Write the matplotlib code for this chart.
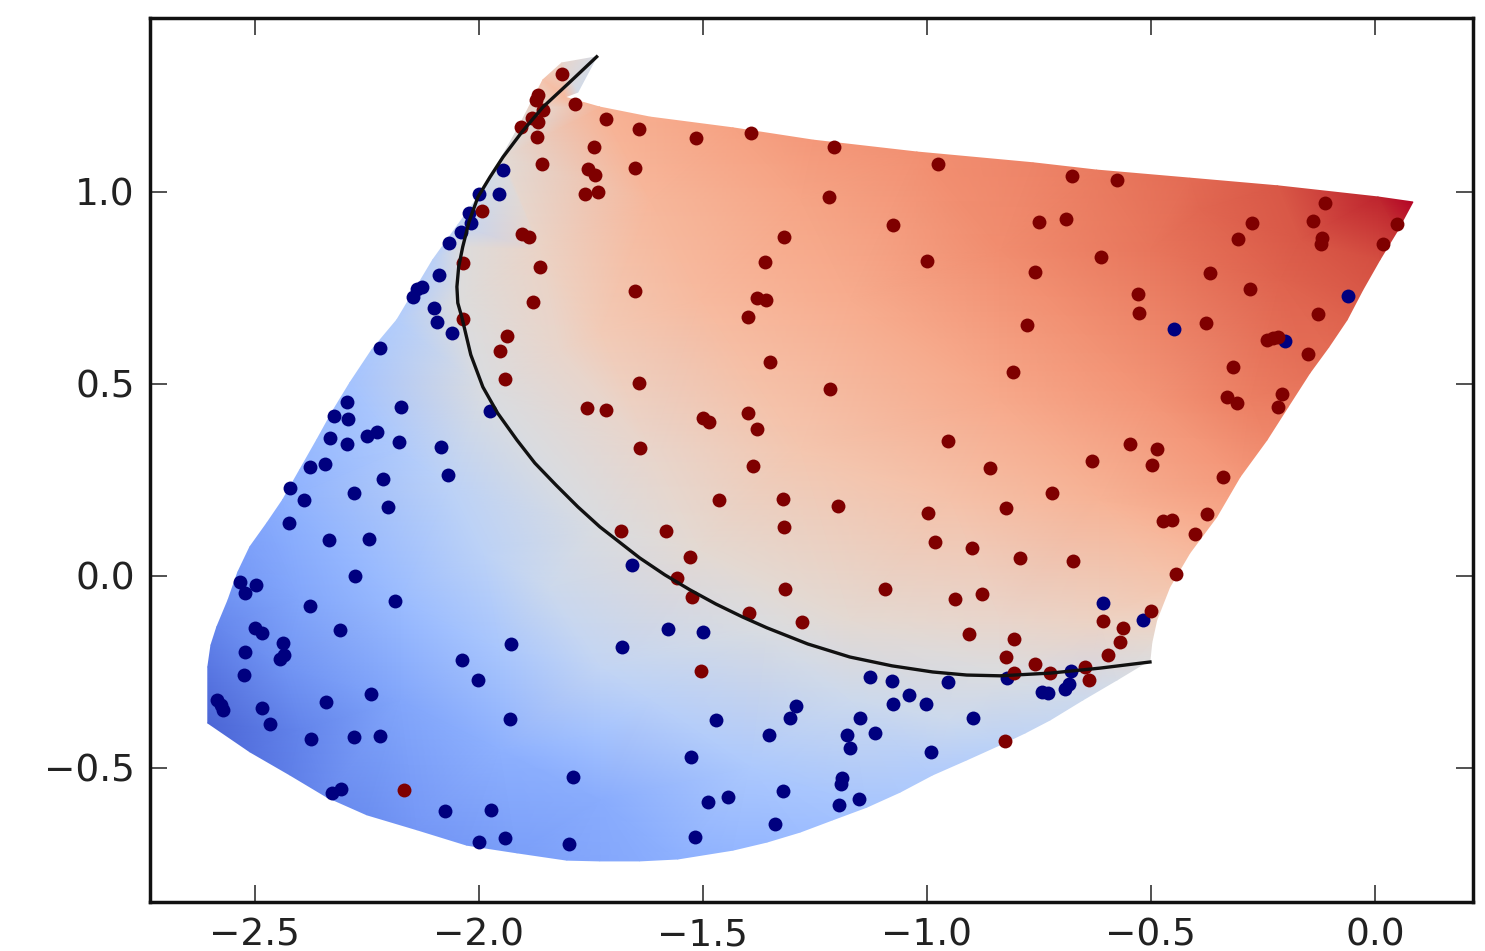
import numpy as np
import matplotlib
matplotlib.use('Agg')
import matplotlib.pyplot as plt
import matplotlib.tri as mtri
from matplotlib.path import Path

# outline of the warped surface, in drawing order
edge_x = [-2.605, -2.511, -2.422, -2.339, -2.250, -2.138, -2.027, -1.915, -1.804, -1.730, -1.641,
          -1.556, -1.433, -1.357, -1.283, -1.210, -1.134, -1.060, -0.987, -0.911, -0.837, -0.781, -0.725, -0.652, -0.576, -0.502,
          -0.498, -0.487, -0.458, -0.413, -0.353, -0.301, -0.241, -0.194, -0.145, -0.103, -0.062, -0.027, 0.011, 0.049, 0.085,
          0.007, -0.217, -0.413, -0.621, -0.763, -1.022, -1.254, -1.433, -1.618, -1.730, -1.808, -1.779, -1.737,
          -1.815, -1.857, -1.915, -1.953, -1.991, -2.047, -2.103, -2.143, -2.183, -2.239, -2.288, -2.326, -2.362, -2.400, -2.438,
          -2.473, -2.511, -2.538, -2.560, -2.585, -2.598, -2.605]
edge_y = [-0.383, -0.458, -0.518, -0.576, -0.622, -0.661, -0.701, -0.721, -0.740, -0.742, -0.742,
          -0.737, -0.714, -0.693, -0.667, -0.635, -0.602, -0.563, -0.518, -0.479, -0.440, -0.409, -0.375, -0.323, -0.271, -0.219,
          -0.174, -0.115, -0.029, 0.060, 0.154, 0.258, 0.354, 0.440, 0.529, 0.596, 0.667, 0.745, 0.823, 0.896, 0.974,
          0.987, 1.016, 1.036, 1.057, 1.076, 1.104, 1.135, 1.167, 1.195, 1.221, 1.247, 1.260, 1.352,
          1.336, 1.292, 1.161, 1.083, 1.005, 0.914, 0.823, 0.745, 0.667, 0.589, 0.503, 0.430, 0.354, 0.276, 0.198,
          0.138, 0.076, 0.010, -0.063, -0.133, -0.180, -0.237]
edge_z = [0.06, 0.09, 0.12, 0.15, 0.16, 0.18, 0.19, 0.20, 0.215, 0.225, 0.235,
          0.25, 0.27, 0.28, 0.295, 0.31, 0.325, 0.34, 0.355, 0.37, 0.39, 0.405, 0.42, 0.44, 0.47, 0.50,
          0.53, 0.57, 0.62, 0.66, 0.71, 0.75, 0.79, 0.815, 0.84, 0.855, 0.87, 0.89, 0.91, 0.95, 1.00,
          0.97, 0.89, 0.855, 0.82, 0.80, 0.77, 0.75, 0.73, 0.70, 0.68, 0.66, 0.46, 0.47,
          0.55, 0.63, 0.50, 0.48, 0.45, 0.41, 0.38, 0.37, 0.36, 0.34, 0.32, 0.30, 0.29, 0.27, 0.25,
          0.23, 0.21, 0.19, 0.17, 0.14, 0.12, 0.10]

# colour read at points inside the surface
inner_x = [-1.857, -1.946, -2.036, -2.042, -1.991, -1.730, -1.357, -0.837,
           -2.400, -2.176, -2.438, -2.176, -2.400, -1.953, -1.730, -1.730, -1.730, -2.065, -2.176, -1.842, -1.618, -1.395, -1.172, -0.949, -1.953, -1.991,
           -1.730, -1.618, -1.283, -1.507, -1.172, -0.837, -0.837, -0.502, -0.502, -0.212, -0.279, -1.283, -0.949, -0.614, -1.618, -1.507, -1.172, -0.837, -0.614, -1.819, -1.864, -0.167, -0.391]
inner_y = [1.221, 1.091, 0.857, 0.719, 0.492, 0.128, -0.135, -0.260,
           -0.063, -0.063, -0.237, -0.323, -0.401, -0.453, -0.583, -0.409, -0.237, 0.232, 0.328, -0.029, -0.323, -0.497, -0.323, -0.375, -0.193, 0.060,
           0.633, 0.979, 0.979, 0.719, 0.719, 0.849, 0.458, 0.849, 0.458, 0.771, 0.458, 0.328, 0.198, 0.198, 0.328, 0.068, -0.115, -0.115, -0.115, 0.589, 0.849, 0.875, 0.953]
inner_z = [0.54, 0.52, 0.50, 0.50, 0.49, 0.49, 0.49, 0.49,
           0.22, 0.29, 0.17, 0.22, 0.13, 0.25, 0.24, 0.32, 0.41, 0.39, 0.35, 0.44, 0.38, 0.34, 0.44, 0.44, 0.33, 0.39,
           0.60, 0.67, 0.72, 0.66, 0.70, 0.78, 0.71, 0.83, 0.76, 0.87, 0.81, 0.62, 0.63, 0.68, 0.55, 0.53, 0.53, 0.55, 0.57, 0.55, 0.56, 0.89, 0.86]

line_x = [-1.737, -1.797, -1.857, -1.904, -1.946, -1.975, -2.002, -2.022, -2.036, -2.045, -2.049, -2.047, -2.038, -2.018, -1.991, -1.958, -1.915, -1.875, -1.828,
          -1.779, -1.730, -1.641, -1.585, -1.529, -1.471, -1.411, -1.357, -1.266, -1.172, -1.078, -0.987, -0.911, -0.837, -0.725, -0.614, -0.502]
line_y = [1.352, 1.286, 1.221, 1.156, 1.091, 1.039, 0.987, 0.922, 0.857, 0.805, 0.753, 0.711, 0.674, 0.576, 0.492, 0.424, 0.354, 0.294, 0.237,
          0.180, 0.128, 0.047, 0.003, -0.036, -0.073, -0.107, -0.135, -0.177, -0.211, -0.234, -0.250, -0.258, -0.260, -0.253, -0.240, -0.224]

red_x = [-1.815, -1.873, -1.868, -1.786, -1.857, -1.882, -1.868, -1.906, -1.871, -1.859, -1.743, -1.757, -1.741, -1.763, -1.734,
         -1.993, -1.904, -1.888, -1.864, -2.036, -1.879, -2.036, -1.938, -1.953, -1.942, -1.759, -1.717, -1.717, -1.643, -1.516,
         -1.393, -1.208, -0.975, -1.652, -1.219, -1.076, -0.750, -1.319, -1.000, -1.362, -0.759, -1.652, -1.379, -1.359, -1.400,
         -0.777, -1.350, -0.808, -1.643, -1.217, -1.400, -1.500, -1.487, -1.379, -1.641, -0.953, -1.388, -0.859, -1.464, -1.321,
         -1.199, -0.998, -0.824, -0.721, -1.683, -1.583, -1.319, -0.982, -0.900, -0.792, -1.529, -1.558, -1.525, -1.317, -1.094,
         -0.877, -0.938, -1.397, -1.279, -1.504, -0.826, -0.906, -0.806, -0.824, -0.759, -0.806, -0.725, -2.167, -0.676, -0.576,
         -0.690, -0.112, -0.275, -0.138, -0.306, -0.118, -0.121, 0.049, 0.018, -0.612, -0.368, -0.279, -0.529, -0.527, -0.127,
         -0.377, -0.241, -0.228, -0.217, -0.150, -0.317, -0.208, -0.330, -0.308, -0.217, -0.547, -0.487, -0.632, -0.498, -0.339,
         -0.375, -0.473, -0.453, -0.402, -0.674, -0.444, -0.500, -0.607, -0.563, -0.569, -0.596, -0.647, -0.638]
red_y = [1.307, 1.240, 1.253, 1.229, 1.214, 1.193, 1.182, 1.169, 1.143, 1.073, 1.117, 1.060, 1.044, 0.995, 1.000,
         0.951, 0.891, 0.883, 0.805, 0.815, 0.714, 0.669, 0.625, 0.586, 0.513, 0.438, 0.432, 1.190, 1.164, 1.141,
         1.154, 1.117, 1.073, 1.063, 0.987, 0.914, 0.922, 0.883, 0.820, 0.818, 0.792, 0.742, 0.724, 0.719, 0.674,
         0.654, 0.557, 0.531, 0.503, 0.487, 0.424, 0.411, 0.401, 0.383, 0.333, 0.352, 0.286, 0.281, 0.198, 0.201,
         0.182, 0.164, 0.177, 0.216, 0.117, 0.117, 0.128, 0.089, 0.073, 0.047, 0.049, -0.005, -0.055, -0.034, -0.034,
         -0.047, -0.060, -0.096, -0.120, -0.247, -0.430, -0.151, -0.164, -0.211, -0.229, -0.253, -0.253, -0.557, 1.042, 1.031,
         0.930, 0.971, 0.919, 0.924, 0.878, 0.880, 0.865, 0.917, 0.865, 0.831, 0.789, 0.747, 0.734, 0.685, 0.682,
         0.659, 0.615, 0.620, 0.622, 0.578, 0.544, 0.474, 0.466, 0.451, 0.440, 0.344, 0.331, 0.299, 0.289, 0.258,
         0.161, 0.143, 0.146, 0.109, 0.039, 0.005, -0.091, -0.117, -0.135, -0.172, -0.206, -0.237, -0.271]

blue_x = [-1.946, -2.000, -1.955, -2.022, -2.018, -2.040, -2.067, -2.089, -2.127, -2.138, -2.147, -2.100, -2.094, -2.060, -2.221,
          -2.295, -2.174, -2.324, -2.292, -1.975, -2.228, -2.250, -2.333, -2.295, -2.179, -2.085, -2.344, -2.377, -2.069, -2.214,
          -2.422, -2.279, -2.391, -2.203, -2.424, -2.335, -2.246, -2.277, -2.533, -2.498, -2.522, -2.188, -2.377, -2.310, -2.500,
          -2.484, -2.438, -2.522, -2.435, -2.444, -2.525, -2.038, -1.929, -2.002, -2.585, -2.576, -2.571, -2.484, -2.342, -2.241,
          -1.931, -2.467, -2.375, -2.279, -2.221, -1.790, -2.308, -2.328, -2.076, -1.973, -1.942, -2.000, -1.799, -1.578, -1.500,
          -1.681, -1.127, -1.078, -0.953, -0.821, -1.040, -1.076, -1.002, -1.292, -1.306, -1.471, -1.150, -0.897, -0.743, -0.730,
          -1.353, -1.179, -1.116, -1.172, -0.991, -1.527, -1.190, -1.192, -1.321, -1.444, -1.489, -1.152, -1.196, -1.339, -1.518,
          -1.658, -0.060, -0.449, -0.201, -0.607, -0.518, -0.679, -0.683, -0.692]
blue_y = [1.057, 0.995, 0.995, 0.945, 0.919, 0.896, 0.867, 0.784, 0.753, 0.747, 0.727, 0.698, 0.661, 0.633, 0.594,
          0.453, 0.440, 0.417, 0.409, 0.430, 0.375, 0.365, 0.359, 0.344, 0.349, 0.336, 0.292, 0.284, 0.263, 0.253,
          0.229, 0.216, 0.198, 0.180, 0.138, 0.094, 0.096, 0.000, -0.016, -0.023, -0.044, -0.065, -0.078, -0.141, -0.135,
          -0.148, -0.174, -0.198, -0.206, -0.216, -0.258, -0.219, -0.177, -0.271, -0.323, -0.336, -0.349, -0.344, -0.328, -0.307,
          -0.372, -0.385, -0.424, -0.419, -0.417, -0.523, -0.555, -0.565, -0.612, -0.609, -0.682, -0.693, -0.698, -0.138, -0.146,
          -0.185, -0.263, -0.273, -0.276, -0.266, -0.310, -0.333, -0.333, -0.339, -0.370, -0.375, -0.370, -0.370, -0.302, -0.305,
          -0.414, -0.414, -0.409, -0.448, -0.458, -0.471, -0.526, -0.542, -0.560, -0.576, -0.589, -0.581, -0.596, -0.646, -0.680,
          0.029, 0.729, 0.643, 0.612, -0.070, -0.115, -0.247, -0.281, -0.294]

x_ticks = [-2.5, -2.0, -1.5, -1.0, -0.5, 0.0]
y_ticks = [-0.5, 0.0, 0.5, 1.0]

fig = plt.figure(figsize=(14.85, 9.51), dpi=100)
ax = fig.add_axes([150 / 1485, 49 / 951, 1323 / 1485, 884 / 951])

# triangulate the read nodes, drop the triangles outside the outline
nx = np.array(edge_x + inner_x)
ny = np.array(edge_y + inner_y)
nz = np.array(edge_z + inner_z)
tri = mtri.Triangulation(nx, ny)
outline = Path(np.column_stack([edge_x, edge_y]))
centers = np.column_stack([nx[tri.triangles].mean(axis=1), ny[tri.triangles].mean(axis=1)])
tri.set_mask(~outline.contains_points(centers))

ax.tripcolor(tri, nz, shading='gouraud', cmap='coolwarm', vmin=0, vmax=1, zorder=1)
ax.scatter(blue_x, blue_y, s=100, c='#00007f', linewidths=0, zorder=2)
ax.scatter(red_x, red_y, s=100, c='#7f0000', linewidths=0, zorder=3)
ax.plot(line_x, line_y, color='#111111', lw=2.4, zorder=4)

ax.set_xlim(-2.734, 0.219)
ax.set_ylim(-0.849, 1.453)
ax.set_xticks(x_ticks)
ax.set_yticks(y_ticks)
ax.tick_params(direction='in', top=True, right=True, length=12, width=1.2, labelsize=27, pad=11, color='#333333', labelcolor='#222222')
for s in ax.spines.values():
    s.set_linewidth(2.5)
    s.set_color('#111111')

fig.savefig('out.png', dpi=100)
